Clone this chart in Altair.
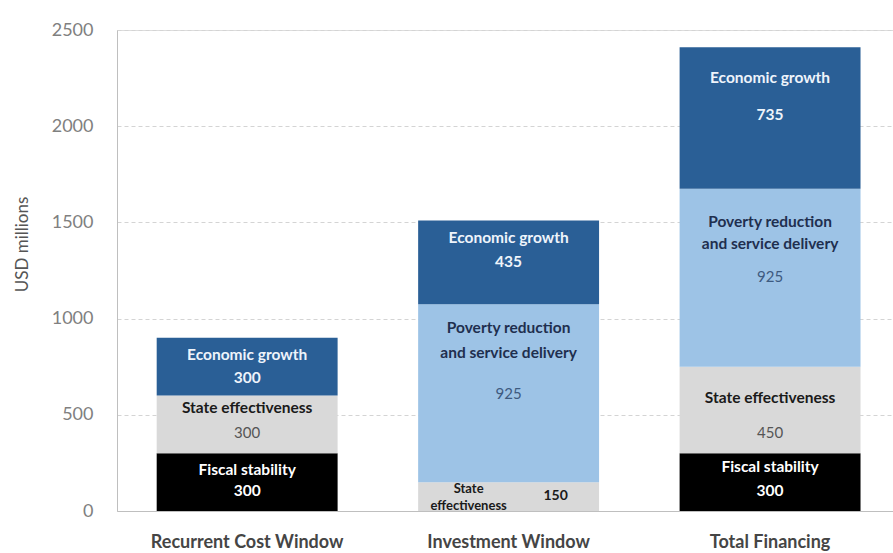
import altair as alt
import pandas as pd

categories = ["Recurrent Cost Window", "Investment Window", "Total Financing"]
segments = ["Fiscal stability", "State effectiveness",
            "Poverty reduction and service delivery", "Economic growth"]
fiscal_stability = [300, 0, 300]
state_effectiveness = [300, 150, 450]
poverty_reduction = [0, 925, 925]
economic_growth = [300, 435, 735]
seg_colors = ["#000000", "#d9d9d9", "#9dc3e6", "#2a5f96"]

values = [fiscal_stability, state_effectiveness, poverty_reduction, economic_growth]

rows = []
for si, seg in enumerate(segments):
    for ci, cat in enumerate(categories):
        rows.append({"category": cat, "segment": seg, "order": si, "value": values[si][ci]})
bars_df = pd.DataFrame(rows)

# label layout: (category index, segment index) -> name line y's, number y
name_lines = {
    0: ["Fiscal stability"],
    1: ["State effectiveness"],
    2: ["Poverty reduction", "and service delivery"],
    3: ["Economic growth"],
}
layout = {
    (0, 3): ([810], 690), (0, 1): ([535], 405), (0, 0): ([215], 105),
    (1, 3): ([1420], 1295), (1, 2): ([951, 821], 608),
    (2, 3): ([2250], 2058), (2, 2): ([1502, 1388], 1216),
    (2, 1): ([587], 405), (2, 0): ([229], 104),
}
name_color = {0: "#ffffff", 1: "#1a1a1a", 2: "#1f2f4f", 3: "#eef4fb"}
num_color = {0: "#ffffff", 1: "#555555", 2: "#3d5a80", 3: "#eef4fb"}
num_bold = {0: True, 1: False, 2: False, 3: True}

bold_rows, normal_rows = [], []
for (ci, si), (ys, ny) in layout.items():
    for line, y in zip(name_lines[si], ys):
        bold_rows.append({"category": categories[ci], "y": y, "text": line, "color": name_color[si]})
    r = {"category": categories[ci], "y": ny, "text": str(values[si][ci]), "color": num_color[si]}
    (bold_rows if num_bold[si] else normal_rows).append(r)

small_df = pd.DataFrame([
    {"category": categories[1], "y": 114, "text": "State"},
    {"category": categories[1], "y": 26, "text": "effectiveness"},
])
small_num_df = pd.DataFrame([
    {"category": categories[1], "y": 78, "text": str(state_effectiveness[1])},
])

FONT = "Lato"

x_enc = alt.X("category:N", sort=categories, title=None,
              scale=alt.Scale(paddingInner=0.308, paddingOuter=0.138, align=0.55),
              axis=alt.Axis(labelAngle=0, labelFontSize=18, labelColor="#454545",
                            labelFontWeight="bold", labelLimit=400,
                            labelFont=FONT, labelPadding=22, ticks=False,
                            domainColor="#bfbfbf", domainWidth=1))

bars = alt.Chart(bars_df).mark_bar().encode(
    x=x_enc,
    y=alt.Y("value:Q", stack="zero",
            scale=alt.Scale(domain=[0, 2500], nice=False),
            axis=alt.Axis(values=[0, 500, 1000, 1500, 2000, 2500], format="d",
                          title="USD millions",
                          titleFont=FONT, titleFontSize=17, titleFontWeight="normal",
                          titleColor="#555555", titleX=-95, titleY=214,
                          titleBaseline="middle", titleAlign="center", titleAngle=270,
                          labelFont=FONT, labelFontSize=18, labelColor="#808080",
                          labelPadding=24, ticks=False,
                          domainColor="#bfbfbf", gridColor="#d4d4d4",
                          gridDash=[4, 3])),
    color=alt.Color("segment:N", scale=alt.Scale(domain=segments, range=seg_colors), legend=None),
    order=alt.Order("order:Q", sort="ascending"),
)

def text_layer(df, weight, size, dx=0, color_field=True, color="#1a1a1a"):
    base = alt.Chart(pd.DataFrame(df))
    if color_field:
        mark = base.mark_text(font=FONT, fontSize=size, fontWeight=weight, dx=dx,
                              baseline="middle", align="center")
    else:
        mark = base.mark_text(font=FONT, fontSize=size, fontWeight=weight, dx=dx,
                              baseline="middle", align="center", color=color)
    enc = dict(x=alt.X("category:N", sort=categories),
               y=alt.Y("y:Q"), text="text:N")
    if color_field:
        enc["color"] = alt.Color("color:N", scale=None)
    return mark.encode(**enc)

bold_layer = text_layer(bold_rows, "bold", 15.5)
normal_layer = text_layer(normal_rows, "normal", 15)
small_layer = text_layer(small_df, "bold", 13, dx=-40, color_field=False, color="#1a1a1a")
small_num_layer = text_layer(small_num_df, "bold", 14, dx=47, color_field=False, color="#1a1a1a")

chart = alt.layer(bars, bold_layer, normal_layer, small_layer, small_num_layer).properties(
    width=776, height=481,
    autosize=alt.AutoSizeParams(type="none"),
    padding={"left": 117, "top": 30, "right": 0, "bottom": 42},
).configure_view(stroke=None).configure(background="#ffffff")

chart.save("out.html", embed_options={"renderer": "svg", "actions": False})
